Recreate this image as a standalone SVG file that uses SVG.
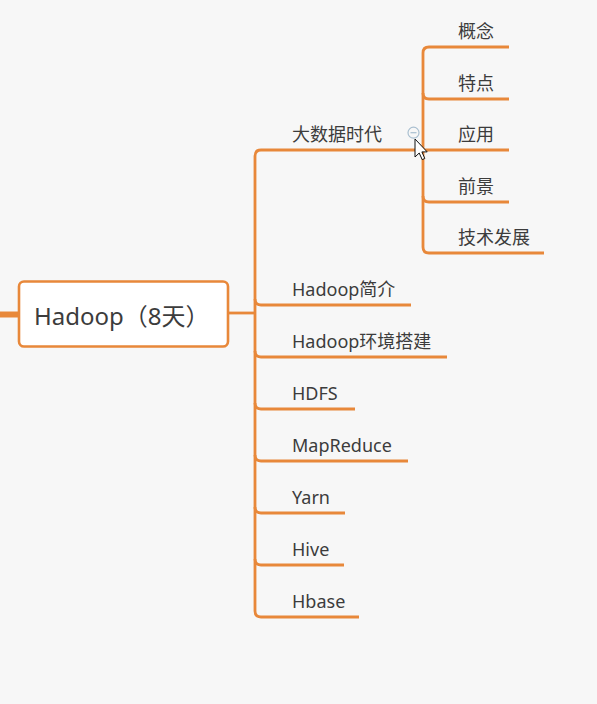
<svg xmlns="http://www.w3.org/2000/svg" width="597" height="704" viewBox="0 0 597 704">
<style>
.ln{fill:none;stroke:#E8883A;stroke-width:2.8;stroke-linecap:butt;stroke-linejoin:round}
.t{font-family:"Noto Sans","Noto Sans CJK SC",sans-serif;font-size:18px;fill:#3c3c3c}
.root{font-family:"Noto Sans","Noto Sans CJK SC",sans-serif;font-size:24px;fill:#3c3c3c}
</style>
<rect x="0" y="0" width="597" height="704" fill="#F7F7F7"/>
<g id="connectors">
<path d="M0,314.5 L19,314.5" stroke="#E8883A" stroke-width="6" fill="none"/>
<path class="ln" d="M228,313 L255,313"/>
<path class="ln" d="M423,150 L261,150 Q255,150 255,156 L255,611 Q255,617 261,617 L359,617"/>
<path class="ln" d="M255,299 Q255,305 261,305 L411,305"/>
<path class="ln" d="M255,351 Q255,357 261,357 L447,357"/>
<path class="ln" d="M255,403 Q255,409 261,409 L355,409"/>
<path class="ln" d="M255,455 Q255,461 261,461 L408,461"/>
<path class="ln" d="M255,507 Q255,513 261,513 L345,513"/>
<path class="ln" d="M255,559 Q255,565 261,565 L344,565"/>
<path class="ln" d="M509,47 L429,47 Q423,47 423,53 L423,247 Q423,253 429,253 L544,253"/>
<path class="ln" d="M423,93 Q423,99 429,99 L509,99"/>
<path class="ln" d="M423,150 L509,150"/>
<path class="ln" d="M423,196 Q423,202 429,202 L509,202"/>
</g>
<g id="root">
<rect x="19" y="281.5" width="209" height="65" rx="5" ry="5" fill="#FFFFFF" stroke="#E8883A" stroke-width="2.6"/>
<text class="root" x="34" y="325">Hadoop（8天）</text>
</g>
<g id="n-bigdata"><text class="t" x="292" y="141">大数据时代</text></g>
<g id="n-collapse">
<circle cx="413.5" cy="132.7" r="5.5" fill="#F7F7F7" stroke="#A9BFD0" stroke-width="1.2"/>
<line x1="410.5" y1="132.7" x2="416.5" y2="132.7" stroke="#A9BFD0" stroke-width="1.2"/>
</g>
<g id="n-gainian"><text class="t" x="458" y="38">概念</text></g>
<g id="n-tedian"><text class="t" x="458" y="90">特点</text></g>
<g id="n-yingyong"><text class="t" x="458" y="141">应用</text></g>
<g id="n-qianjing"><text class="t" x="458" y="193">前景</text></g>
<g id="n-jishu"><text class="t" x="458" y="244">技术发展</text></g>
<g id="n-intro"><text class="t" x="292" y="296">Hadoop简介</text></g>
<g id="n-env"><text class="t" x="292" y="348">Hadoop环境搭建</text></g>
<g id="n-hdfs"><text class="t" x="292" y="400">HDFS</text></g>
<g id="n-mr"><text class="t" x="292" y="452">MapReduce</text></g>
<g id="n-yarn"><text class="t" x="292" y="504">Yarn</text></g>
<g id="n-hive"><text class="t" x="292" y="556">Hive</text></g>
<g id="n-hbase"><text class="t" x="292" y="608">Hbase</text></g>
<g id="cursor">
<path d="M415,139 L415,157 L419.2,153 L422.2,159.6 L424.8,158.5 L421.9,151.9 L427.2,151.9 Z" fill="#FFFFFF" stroke="#111111" stroke-width="1" stroke-linejoin="round"/>
</g>
</svg>
